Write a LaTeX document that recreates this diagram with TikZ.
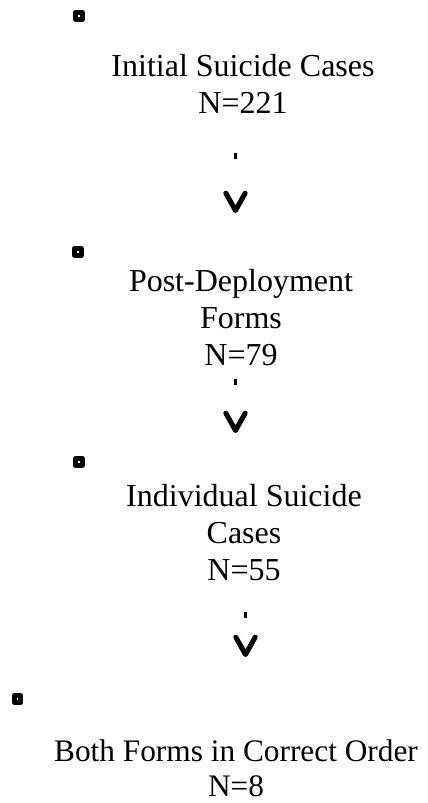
\documentclass[tikz,border=0pt]{standalone}
\usepackage{fontspec}
\setmainfont{Liberation Serif}
\usetikzlibrary{arrows.meta}

\begin{document}
\begin{tikzpicture}[
    x=0.75pt, y=-0.75pt,
    flow/.style={-{Straight Barb[length=13pt,width=14.5pt,line width=3.75pt 0,round]},
      line width=2.25pt, dash pattern=on 4.5pt off 300pt},
    count node/.style={align=center,inner sep=0pt,anchor=north,
      font=\fontsize{24}{27.4}\selectfont},
    marker node/.style={rectangle,draw,line width=3.75pt,line join=round,
      minimum size=4.9pt,inner sep=0pt}]

  \useasboundingbox (0,0) rectangle (428,803);

  \node[marker node] (Mark1) at (79,16) {};
  \node[count node] (Initial) at (243,54.5) {Initial Suicide Cases\\N=221};
  \node[marker node] (Mark2) at (78,252) {};
  \node[count node] (PostDep) at (241,269.5) {Post-Deployment\\Forms\\N=79};
  \node[marker node] (Mark3) at (79,462) {};
  \node[count node] (Individual) at (244,484.5) {Individual Suicide\\Cases\\N=55};
  \node[marker node] (Mark4) at (17.5,699) {};
  \node[count node,font=\fontsize{23.5}{26.8}\selectfont] (BothForms) at (236,739)
    {Both Forms in Correct Order\\N=8};

  % loose ends of the connectors
  \coordinate (Initial-out) at (235.5,153);
  \coordinate (PostDep-in) at (235.5,213);
  \coordinate (PostDep-out) at (235.5,379);
  \coordinate (Individual-in) at (235.5,433);
  \coordinate (Individual-out) at (245.5,612);
  \coordinate (BothForms-in) at (245.5,657);

  \draw[flow] (Initial-out) -- (PostDep-in);
  \draw[flow] (PostDep-out) -- (Individual-in);
  \draw[flow] (Individual-out) -- (BothForms-in);
\end{tikzpicture}
\end{document}
